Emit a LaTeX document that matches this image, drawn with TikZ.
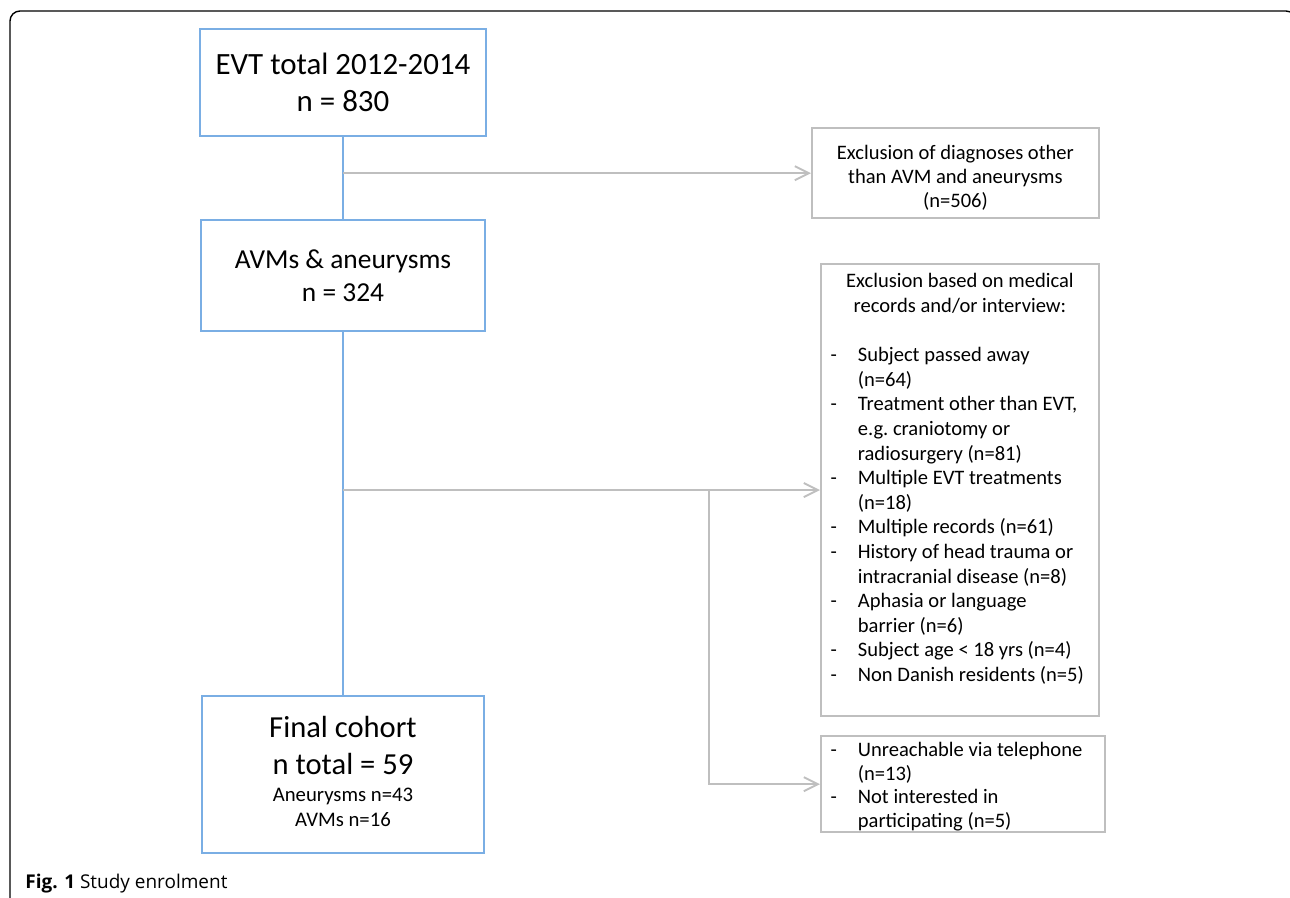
\documentclass[tikz,border=0pt]{standalone}
\usepackage{fontspec}
\setmainfont{Carlito}
\newfontfamily\capfont{Open Sans}
\usetikzlibrary{arrows.meta,positioning}
\definecolor{flowblue}{RGB}{122,174,228}
\definecolor{flowgray}{RGB}{191,191,191}
\newcommand{\padtop}[1]{\rule{0pt}{#1}}
\newcommand{\padbot}[1]{\rule[-#1]{0pt}{#1}}
\newcommand{\dashitem}[1]{\makebox[\linewidth][l]{\hspace{5.5pt}\makebox[15.5pt][l]{-}#1}}
\newcommand{\dashmore}[1]{\makebox[\linewidth][l]{\hspace{21pt}#1}}
\newcommand{\smallcount}[1]{{\fontsize{11.8}{14}\selectfont #1}}

\begin{document}
\begin{tikzpicture}[
  x=0.02cm,y=-0.02cm,>={Straight Barb[length=8pt,width=8pt]},
  stage/.style={draw=flowblue,line width=1pt,align=flush center,inner xsep=0pt,inner ysep=0pt},
  excl/.style={draw=flowgray,line width=1.1pt,align=flush center,inner sep=0pt,
    anchor=north west,font=\fontsize{11.7}{14}\selectfont},
  link/.style={draw=flowblue,line width=.8pt},
  flow/.style={->,draw=flowgray,line width=1.1pt}
]
\useasboundingbox (0,0) rectangle (1290,898);
\draw[line width=.8pt,rounded corners=5.7pt] (10,930) -- (10,11) -- (1296,11) -- (1296,930);

\node[stage,text width=5.72cm,minimum height=2.14cm,
  font=\fontsize{17.6}{21}\selectfont] (evt) at (343,82.5) {EVT total 2012-2014\\n = 830};
\node[stage,text width=5.68cm,minimum height=2.22cm,
  font=\fontsize{15.6}{18.7}\selectfont] (avm) at (343,275.5) {AVMs \& aneurysms\\n = 324};
\node[stage,text width=5.64cm,minimum height=3.14cm,
  font=\fontsize{17.4}{21}\selectfont] (final) at (343,774.5) {Final cohort\\n total = 59\\[-5.7pt]
  \smallcount{Aneurysms n=43}\\[-6.8pt]\smallcount{AVMs n=16\padbot{3.4pt}}};

\node[excl,text width=5.74cm,font=\fontsize{11.7}{13.6}\selectfont] (diag) at (811,127)
  {\padtop{18.1pt}Exclusion of diagnoses other\\than AVM and aneurysms\\(n=506)\padbot{6.2pt}};
\node[excl,text width=5.56cm] (records) at (820,263) {\padtop{13.6pt}Exclusion based on medical\\
  records and/or interview:\\[14pt]
  \dashitem{Subject passed away}\\
  \dashmore{(n=64)}\\
  \dashitem{Treatment other than EVT,}\\
  \dashmore{e.g.\ craniotomy or}\\
  \dashmore{radiosurgery (n=81)}\\
  \dashitem{Multiple EVT treatments}\\
  \dashmore{(n=18)}\\
  \dashitem{Multiple records (n=61)}\\
  \dashitem{History of head trauma or}\\
  \dashmore{intracranial disease (n=8)}\\
  \dashitem{Aphasia or language}\\
  \dashmore{barrier (n=6)}\\
  \dashitem{Subject age < 18 yrs (n=4)}\\
  \dashitem{Non Danish residents (n=5)}\padbot{19.8pt}};
\node[excl,text width=5.68cm,font=\fontsize{11.7}{13.4}\selectfont] (phone) at (820,735)
  {\padtop{11.9pt}\dashitem{Unreachable via telephone}\\
  \dashmore{(n=13)}\\
  \dashitem{Not interested in}\\
  \dashmore{participating (n=5)}\padbot{2.8pt}};

\draw[link] (evt) -- (avm);
\draw[link] (avm) -- (final);
\draw[flow] (evt.south |- diag.west) -- (diag.west);
\draw[flow] (avm.south |- records.west) -- (records.west);
\coordinate[left=2.22cm of records.west] (split);
\draw[flow] (split) |- (phone.west);

\node[anchor=base west,inner sep=0pt,font=\capfont\fontsize{10.8}{13}\selectfont]
  (caption) at (25,888) {\textbf{Fig. 1} Study enrolment};
\end{tikzpicture}
\end{document}
